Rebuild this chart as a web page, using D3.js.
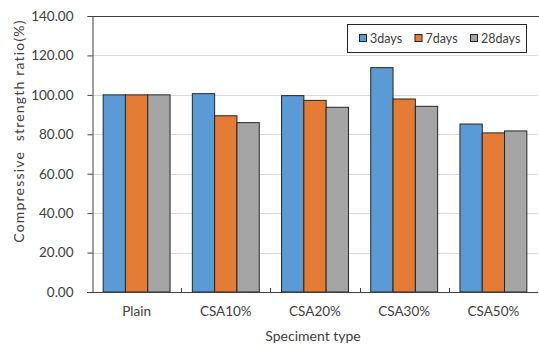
<!DOCTYPE html>
<html><head><meta charset="utf-8">
<script src="https://cdn.jsdelivr.net/npm/d3@7"></script>
<style>body{margin:0;background:#fff}svg{display:block}text{font-family:Lato,"Open Sans",sans-serif;fill:#404040}</style>
</head><body><svg id="c" width="539" height="345"></svg>
<script>
const categories = ["Plain","CSA10%","CSA20%","CSA30%","CSA50%"];
const seriesNames = ["3days","7days","28days"];
const days3 = [100.0, 100.6, 99.6, 113.8, 85.2];
const days7 = [100.0, 89.4, 97.2, 97.9, 80.7];
const days28 = [100.0, 85.9, 93.7, 94.2, 81.7];
const yTicks = [0,20,40,60,80,100,120,140];
const colors = ["#5B9BD5","#E57C35","#A5A5A5"];
const series = [days3, days7, days28];

const svg = d3.select("#c");
const L=92, R=538, T=16, B=292;
const x = d3.scaleBand().domain(categories).range([L,R]).paddingInner(0.25).paddingOuter(0.125);
const x0 = d3.scaleBand().domain(categories).range([L,R]);
const xs = d3.scaleBand().domain(seriesNames).range([0,x.bandwidth()]);
const y = d3.scaleLinear().domain([0,140]).range([B,T]);

// grid
svg.append("g").selectAll("line").data(yTicks.filter(d=>d>0&&d<140)).join("line")
  .attr("x1",L).attr("x2",R).attr("y1",d=>Math.round(y(d))+0.5).attr("y2",d=>Math.round(y(d))+0.5)
  .attr("stroke","#d9d9d9").attr("stroke-width",1);
// top border
svg.append("line").attr("x1",L).attr("x2",539).attr("y1",y(140)+0.5).attr("y2",y(140)+0.5).attr("stroke","#404040");

// bars
categories.forEach((c,i)=>{
  series.forEach((s,j)=>{
    svg.append("rect").attr("x",x(c)+xs(seriesNames[j])).attr("y",y(s[i]))
      .attr("width",xs.bandwidth()).attr("height",B-y(s[i]))
      .attr("fill",colors[j]).attr("stroke","#262626").attr("stroke-width",1);
  });
});

// y axis
const ya = d3.axisLeft(y).tickValues(yTicks).tickFormat(d3.format(".2f")).tickSize(5).tickPadding(14);
const gy = svg.append("g").attr("transform",`translate(${L+0.5},0)`).call(ya);
gy.select(".domain").attr("stroke","#404040");
gy.selectAll(".tick line").attr("stroke","#404040");
gy.selectAll("text").style("font-size","13.5px").attr("fill","#404040");

// x axis
svg.append("line").attr("x1",L-5).attr("x2",R).attr("y1",B+0.5).attr("y2",B+0.5).attr("stroke","#404040");
svg.append("g").selectAll("line").data(categories.slice(1)).join("line")
  .attr("x1",d=>Math.round(x0(d))+0.5).attr("x2",d=>Math.round(x0(d))+0.5)
  .attr("y1",B).attr("y2",B-4).attr("stroke","#404040");
svg.append("g").selectAll("text").data(categories).join("text")
  .attr("x",d=>x0(d)+x0.bandwidth()/2).attr("y",316).attr("text-anchor","middle")
  .style("font-size","13.5px").text(d=>d);

// axis titles
svg.append("text").attr("x",(L+R)/2-2).attr("y",341).attr("text-anchor","middle")
  .style("font-size","14px").text("Speciment type");
svg.append("text").attr("transform","translate(24,131) rotate(-90)").attr("text-anchor","middle")
  .style("font-size","14px").style("letter-spacing","1.2px").attr("xml:space","preserve").text("Compressive  strength ratio(%)");

// legend
const lg = svg.append("g");
lg.append("rect").attr("x",347.5).attr("y",24.5).attr("width",179).attr("height",28)
  .attr("fill","#fff").attr("stroke","#262626");
const lx = [359,414.5,470];
seriesNames.forEach((n,j)=>{
  lg.append("rect").attr("x",lx[j]+0.5).attr("y",34.5).attr("width",7).attr("height",7)
    .attr("fill",colors[j]).attr("stroke","#262626");
  lg.append("text").attr("x",lx[j]+11).attr("y",43).style("font-size","12.5px").text(n);
});
</script></body></html>
